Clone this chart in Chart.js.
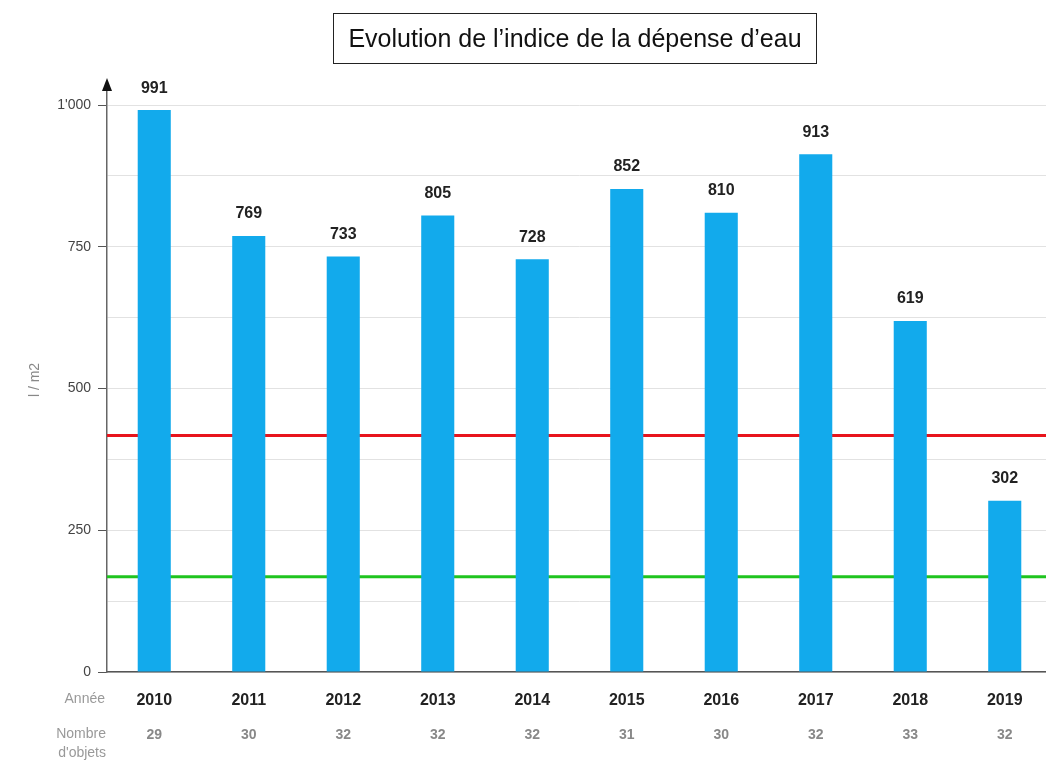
<!DOCTYPE html>
<html>
<head>
<meta charset="utf-8">
<script src="https://cdn.jsdelivr.net/npm/chart.js@4.4.1/dist/chart.umd.min.js"></script>
<style>
  html, body { margin: 0; padding: 0; background: #fff; overflow: hidden; }
  #wrap { position: relative; width: 1046px; height: 762px; overflow: hidden; }
  #chart { position: absolute; left: 0; top: 0; }
  #title {
    position: absolute; left: 333px; top: 13px; width: 482px; height: 49px;
    border: 1.5px solid #222; text-align: center;
    font: 25px "Liberation Sans", Arial, sans-serif; line-height: 49px; color: #111;
    white-space: nowrap;
  }
</style>
</head>
<body>
<div id="wrap">
  <canvas id="chart" width="1054" height="762"></canvas>
  <div id="title">Evolution de l’indice de la dépense d’eau</div>
</div>
<script>
// données
const years = ['2010', '2011', '2012', '2013', '2014', '2015', '2016', '2017', '2018', '2019'];
const waterIndex = [991, 769, 733, 805, 728, 852, 810, 913, 619, 302];
const objectCounts = [29, 30, 32, 32, 32, 31, 30, 32, 33, 32];
const gridTicks = [0, 125, 250, 375, 500, 625, 750, 875, 1000];
const labelTicks = [0, 250, 500, 750, 1000];
const referenceLines = [417, 168]; // rouge, vert

function fmtTick(v) {
  return v >= 1000 ? Math.floor(v / 1000) + "'" + String(v % 1000).padStart(3, '0') : String(v);
}

Chart.defaults.font.family = '"Liberation Sans", Arial, sans-serif';

const decorations = {
  id: 'decorations',
  beforeDatasetsDraw(chart) {
    const { ctx, chartArea, scales } = chart;
    const colors = ['#e8141c', '#1fc41f'];
    ctx.save();
    ctx.lineWidth = 3;
    referenceLines.forEach((v, i) => {
      const py = scales.y.getPixelForValue(v);
      ctx.strokeStyle = colors[i];
      ctx.beginPath();
      ctx.moveTo(chartArea.left, py);
      ctx.lineTo(chartArea.right, py);
      ctx.stroke();
    });
    ctx.restore();
  },
  afterDraw(chart) {
    const { ctx, chartArea, scales } = chart;
    ctx.save();

    // valeurs au-dessus des barres
    ctx.font = 'bold 16px "Liberation Sans", Arial, sans-serif';
    ctx.fillStyle = '#222';
    ctx.textAlign = 'center';
    ctx.textBaseline = 'middle';
    chart.getDatasetMeta(0).data.forEach((bar, i) => {
      ctx.fillText(String(waterIndex[i]), bar.x, bar.y - 22);
    });

    // flèche en haut de l'axe
    const ax = scales.y.right;
    ctx.fillStyle = '#111';
    ctx.beginPath();
    ctx.moveTo(ax, chartArea.top - 10);
    ctx.lineTo(ax - 5, chartArea.top + 3);
    ctx.lineTo(ax + 5, chartArea.top + 3);
    ctx.closePath();
    ctx.fill();

    // libellés à gauche des lignes du bas
    ctx.font = '14px "Liberation Sans", Arial, sans-serif';
    ctx.fillStyle = '#999';
    ctx.textAlign = 'right';
    ctx.fillText('Année', 105, 699);
    ctx.fillText('Nombre', 106, 734);
    ctx.fillText("d'objets", 106, 753);
    ctx.restore();
  }
};

new Chart(document.getElementById('chart'), {
  type: 'bar',
  data: {
    labels: years,
    datasets: [{
      data: waterIndex,
      backgroundColor: '#12aaec',
      barPercentage: 0.35,
      categoryPercentage: 1
    }]
  },
  options: {
    responsive: false,
    animation: false,
    layout: { padding: { top: 88, right: 2, left: 0, bottom: 0 } },
    plugins: { legend: { display: false }, tooltip: { enabled: false } },
    scales: {
      x: {
        position: 'bottom',
        grid: { display: false, drawTicks: false },
        border: { color: '#555', width: 1.5 },
        ticks: { padding: 19, color: '#222', font: { size: 16, weight: 'bold' }, autoSkip: false, maxRotation: 0 },
        afterFit: s => { s.height = 40; }
      },
      x2: {
        type: 'category',
        position: 'bottom',
        labels: objectCounts.map(String),
        offset: true,
        grid: { display: false, drawTicks: false },
        border: { display: false },
        ticks: { padding: 15, color: '#888', font: { size: 14, weight: 'bold' }, autoSkip: false, maxRotation: 0 },
        afterFit: s => { s.height = 50; }
      },
      y: {
        min: 0,
        max: 1030,
        afterBuildTicks: s => { s.ticks = gridTicks.map(v => ({ value: v })); },
        afterFit: s => { s.width = 107; },
        border: { color: '#666', width: 1.5 },
        grid: {
          color: '#e2e2e2',
          tickLength: 9,
          tickColor: c => labelTicks.includes(c.tick && c.tick.value) ? '#555' : 'rgba(0,0,0,0)'
        },
        ticks: {
          padding: 7,
          color: '#444',
          font: { size: 14 },
          callback: v => labelTicks.includes(v) ? fmtTick(v) : ''
        },
        title: { display: true, text: 'l / m2', color: '#888', font: { size: 14 }, padding: { top: 27 } }
      }
    }
  },
  plugins: [decorations]
});
</script>
</body>
</html>
